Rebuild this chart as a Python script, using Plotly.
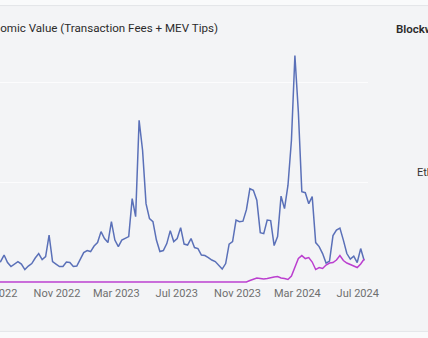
import pandas as pd
import plotly.graph_objects as go

# Weekly dates (Sundays)
weeks = pd.date_range("2022-07-03", "2024-07-14", freq="7D")

ethereum = [4.1, 4.2, 5.5, 4.0, 3.2, 3.7, 4.2, 3.7, 2.6, 3.3, 3.8, 4.9,
            5.8, 4.6, 5.2, 9.5, 4.2, 3.7, 3.2, 3.2, 4.1, 4.0,
            3.2, 3.3, 4.7, 6.0, 6.4, 6.2, 7.3, 8.0, 10.2, 8.8,
            8.0, 12.2, 8.5, 7.2, 8.5, 8.9, 9.2, 16.8, 13.2, 32.5,
            26.5, 15.8, 12.8, 12.2, 8.5, 6.2, 6.4, 7.8, 10.4, 8.2,
            8.8, 11.0, 7.7, 7.5, 8.8, 7.0, 6.8, 5.5, 5.4, 5.0,
            4.5, 4.2, 3.5, 2.7, 3.8, 7.7, 8.2, 12.5, 12.2, 12.3,
            14.6, 18.8, 18.5, 16.5, 10.0, 9.8, 12.5, 12.4, 7.4, 9.2,
            17.3, 14.8, 19.5, 28.5, 45.5, 34.1, 18.2, 18.0, 15.8, 17.2,
            8.0, 7.2, 5.8, 3.9, 4.3, 9.4, 10.5, 10.9, 8.5, 5.8,
            4.7, 5.3, 4.0, 6.8, 4.4]

solana = [0.10, 0.10, 0.10, 0.09, 0.10, 0.09, 0.08, 0.09, 0.08, 0.08, 0.08, 0.07,
          0.08, 0.06, 0.05, 0.05, 0.04, 0.04, 0.05, 0.04, 0.04, 0.04,
          0.03, 0.03, 0.03, 0.03, 0.03, 0.03, 0.03, 0.03, 0.03, 0.03,
          0.03, 0.03, 0.03, 0.03, 0.03, 0.03, 0.03, 0.03, 0.03, 0.03,
          0.03, 0.03, 0.03, 0.03, 0.03, 0.03, 0.03, 0.03, 0.03, 0.03,
          0.03, 0.03, 0.03, 0.03, 0.03, 0.03, 0.04, 0.04, 0.04, 0.04,
          0.04, 0.05, 0.05, 0.05, 0.06, 0.06, 0.07, 0.08, 0.08, 0.09,
          0.1, 0.4, 0.6, 0.9, 0.8, 0.7, 0.8, 1.0, 1.1, 1.2,
          0.9, 0.8, 0.6, 1.3, 3.1, 4.8, 5.4, 4.8, 5.0, 4.1,
          2.6, 3.0, 2.8, 3.5, 3.9, 4.0, 4.5, 5.4, 4.4, 3.9,
          3.6, 3.3, 3.0, 3.7, 4.7]

series_names = ["Ethereum", "Solana"]
series_colors = ["#5a70b8", "#bb3fcf"]

title_text = "Ethereum Economic Value (Transaction Fees + MEV Tips)"
source_text = "Blockworks Research"
legend_text = "Ethereum"

W, H = 428, 338
ML, MR, MT, MB = 0, 60, 32.5, 53
plot_h = H - MT - MB
plot_w = W - ML - MR

fig = go.Figure()
for name, vals, col in zip(series_names, [ethereum, solana], series_colors):
    fig.add_trace(go.Scatter(x=weeks, y=vals, mode="lines", name=name,
                             line=dict(color=col, width=1.5), showlegend=False))

# helper trace so the overlaying date axis carrying the first tick label is drawn
fig.add_trace(go.Scatter(x=weeks[:1], y=ethereum[:1], xaxis="x2", mode="lines",
                         opacity=0, hoverinfo="skip", showlegend=False))

font_family = "Roboto, Inter, Noto Sans, sans-serif"

def py(px):
    return (H - MB - px) / plot_h

def pxx(px):
    return px / plot_w

tickfont = dict(size=11, color="#6f6f6f", family=font_family)

fig.update_layout(
    width=W, height=H,
    margin=dict(l=ML, r=MR, t=MT, b=MB, pad=0, autoexpand=False),
    paper_bgcolor="#f3f4f6", plot_bgcolor="#f3f4f6",
    font=dict(family=font_family, color="#333"),
    showlegend=False,
    title=dict(text=title_text, xref="container", yref="container",
               x=218 / W, xanchor="right", y=1 - 28 / H, yanchor="middle",
               automargin=False,
               font=dict(size=11.6, color="#2b2b2b", family=font_family)),
    xaxis=dict(type="date", range=["2022-07-08 18:00", "2024-07-21 19:00"],
               tick0="2022-07-01", dtick="M4", tickformat="%b %Y",
               showgrid=False, showline=False, zeroline=False, ticks="",
               automargin=False,
               ticklabeloverflow="allow", tickfont=tickfont),
    xaxis2=dict(type="date", overlaying="x", anchor="y", side="bottom",
                range=["2022-06-30 12:00", "2024-07-21 19:00"],
                tickmode="array", tickvals=["2022-07-01"], tickformat="%b %Y",
                ticklabelshift=-4, ticklabeloverflow="allow", automargin=False,
                showgrid=False, showline=False, zeroline=False, ticks="",
                tickfont=tickfont),
    yaxis=dict(range=[-0.5, 50], tick0=0, dtick=20, showticklabels=False,
               automargin=False,
               gridcolor="#fcfcfd", gridwidth=1, zeroline=False, showline=False),
    shapes=[
        dict(type="rect", xref="paper", yref="paper", x0=-0.01, x1=pxx(W) + 0.01,
             y0=py(5), y1=py(-1), fillcolor="#f9fafb", line=dict(width=0), layer="below"),
        dict(type="line", xref="paper", yref="paper", x0=-0.01, x1=pxx(W) + 0.01,
             y0=py(5), y1=py(5), line=dict(color="#e3e5e8", width=1)),
        dict(type="rect", xref="paper", yref="paper", x0=-0.01, x1=pxx(W) + 0.01,
             y0=py(H + 1), y1=py(331.5), fillcolor="#f9fafb", line=dict(width=0), layer="below"),
        dict(type="line", xref="paper", yref="paper", x0=-0.01, x1=pxx(W) + 0.01,
             y0=py(331.5), y1=py(331.5), line=dict(color="#e3e5e8", width=1)),
    ],
    annotations=[
        dict(text=source_text, xref="paper", yref="paper", x=pxx(394), y=py(28),
             xanchor="left", yanchor="middle", showarrow=False,
             font=dict(size=11.5, color="#2b2b2b", family=font_family, weight=600)),
        dict(text=legend_text, xref="paper", yref="paper", x=pxx(415), y=py(172),
             xanchor="left", yanchor="middle", showarrow=False,
             font=dict(size=11, color="#333", family=font_family)),
    ],
)

fig.write_html("out.html", config={"displayModeBar": False})
